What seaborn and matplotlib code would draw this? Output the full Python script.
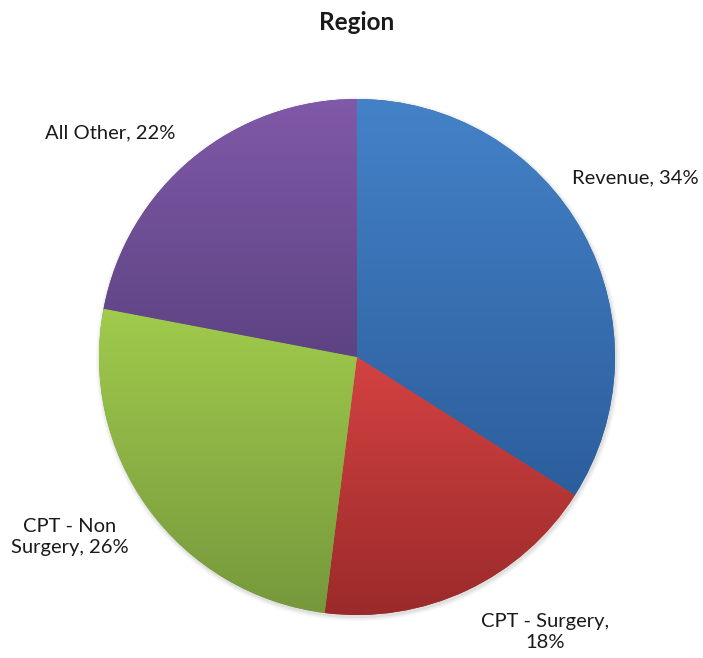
import numpy as np
import matplotlib
matplotlib.use("Agg")
import matplotlib.pyplot as plt
import matplotlib.colors as mcolors
import matplotlib.patches as mpatches
import seaborn as sns

# Data
categories = ["Revenue", "CPT - Surgery", "CPT - Non Surgery", "All Other"]
shares = [34, 18, 26, 22]
label_texts = ["Revenue, 34%", "CPT - Surgery,\n18%", "CPT - Non\nSurgery, 26%", "All Other, 22%"]

# gradient colours per slice (top -> bottom)
top_colors = ["#4482c8", "#d44242", "#a0cb4c", "#8059a8"]
bottom_colors = ["#2c5e9c", "#9b2a2a", "#76983c", "#5d4383"]

# label anchor points in pixel space (x, y from top)
label_pos = [(635, 178), (545, 632), (70, 537), (110, 133)]

sns.set_theme(style="white")
plt.rcParams["font.family"] = ["Lato", "DejaVu Sans"]

W, H = 703, 658
fig = plt.figure(figsize=(W / 100, H / 100), dpi=100)
ax = fig.add_axes([0, 0, 1, 1])

cx, cy, r = 357, H - 357, 258

# soft shadow
for k, a in enumerate([0.05, 0.04, 0.03]):
    ax.add_patch(mpatches.Circle((cx + 1, cy - 2), r + 1 + k * 1.5,
                                 facecolor="black", edgecolor="none", alpha=a, zorder=0))

wedges, _ = ax.pie(shares, center=(cx, cy), radius=r, startangle=90,
                   counterclock=False, colors=bottom_colors,
                   wedgeprops=dict(linewidth=0))

# vertical gradient fill clipped to each wedge
for w, c_top, c_bot in zip(wedges, top_colors, bottom_colors):
    t = np.linspace(w.theta1, w.theta2, 200)
    ys = np.concatenate([[cy], cy + r * np.sin(np.radians(t))])
    y0, y1 = ys.min(), ys.max()
    frac = np.linspace(0, 1, 256)[:, None]
    top = np.array(mcolors.to_rgb(c_top))
    bot = np.array(mcolors.to_rgb(c_bot))
    grad = (1 - frac)[:, :, None] * top + frac[:, :, None] * bot
    grad = np.repeat(grad, 2, axis=1)
    im = ax.imshow(grad, extent=(cx - r, cx + r, y0, y1), origin="upper",
                   aspect="auto", zorder=2, interpolation="bilinear")
    im.set_clip_path(w)

for txt, (x, y) in zip(label_texts, label_pos):
    ax.text(x, H - y, txt, ha="center", va="center", fontsize=14.5,
            color="#1a1a1a", linespacing=1.3, zorder=3)

ax.text(cx, H - 22, "Region", ha="center", va="center", fontsize=17.5,
        fontweight="bold", color="#1a1a1a")

ax.set_xlim(0, W)
ax.set_ylim(0, H)
ax.set_aspect("equal")
ax.axis("off")

fig.savefig("out.png", dpi=100, facecolor="white")
